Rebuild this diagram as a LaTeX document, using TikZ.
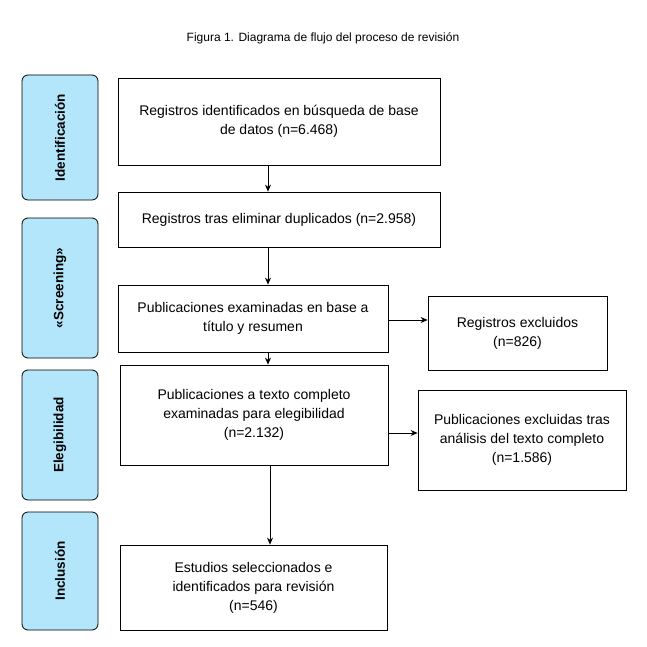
\documentclass[tikz,border=0pt]{standalone}
\usepackage{fontspec}
\setmainfont{Liberation Sans}
\usetikzlibrary{arrows.meta}
\tikzstyle{box}=[draw=black,thick,align=center,inner sep=0pt,font=\fontsize{14}{19}\selectfont]
\tikzstyle{phase}=[draw=black,thick,fill=cyan!30,rounded corners=6pt,font=\bfseries\fontsize{13.5}{15}\selectfont,inner sep=0pt]
\tikzstyle{flow}=[-{Stealth[length=7pt,width=6pt]},thick]
\begin{document}
\begin{tikzpicture}[x=1pt,y=-1pt]
  \useasboundingbox (0,0) rectangle (647,647);
  \node [font=\fontsize{12}{14}\selectfont,inner sep=0pt] (title) at (323,38) {Figura 1. Diagrama de flujo del proceso de revisión};
  % phases
  \node [phase,minimum width=76pt,minimum height=125pt] (ident) at (60,137.5) {\rotatebox{90}{Identificación}};
  \node [phase,minimum width=76pt,minimum height=140pt] (screen) at (60,288) {\rotatebox{90}{«Screening»}};
  \node [phase,minimum width=76pt,minimum height=130pt] (eleg) at (60,435) {\rotatebox{90}{Elegibilidad}};
  \node [phase,minimum width=76pt,minimum height=118pt] (incl) at (60,571) {\rotatebox{90}{Inclusión}};
  % boxes
  \node [box,minimum width=322pt,minimum height=87pt] (reg) at (279,121.5) {Registros identificados en búsqueda de base\\de datos (n=6.468)};
  \node [box,minimum width=322pt,minimum height=55pt] (dup) at (279,219.5) {Registros tras eliminar duplicados (n=2.958)};
  \node [box,minimum width=270pt,minimum height=67pt] (pub) at (253,318.5) {Publicaciones examinadas en base a\\título y resumen};
  \node [box,minimum width=179pt,minimum height=74pt] (exc) at (517.5,333) {Registros excluidos\\(n=826)};
  \node [box,minimum width=268pt,minimum height=100pt] (full) at (254,415) {Publicaciones a texto completo\\examinadas para elegibilidad\\(n=2.132)};
  \node [box,minimum width=208pt,minimum height=100pt] (excfull) at (522,440) {Publicaciones excluidas tras\\análisis del texto completo\\(n=1.586)};
  \node [box,minimum width=267pt,minimum height=85pt] (sel) at (253.5,587.5) {Estudios seleccionados e\\identificados para revisión\\(n=546)};
  % arrows
  \draw [flow] (reg.south -| 268,0) -- (dup.north -| 268,0);
  \draw [flow] (dup.south -| 268,0) -- (pub.north -| 268,0);
  \draw [flow] (pub.south -| 268,0) -- (full.north -| 268,0);
  \draw [flow] (full.south -| 270,0) -- (sel.north -| 270,0);
  \draw [flow] (pub.east |- 0,320) -- (exc.west |- 0,320);
  \draw [flow] (full.east |- 0,433) -- (excfull.west |- 0,433);
\end{tikzpicture}
\end{document}
